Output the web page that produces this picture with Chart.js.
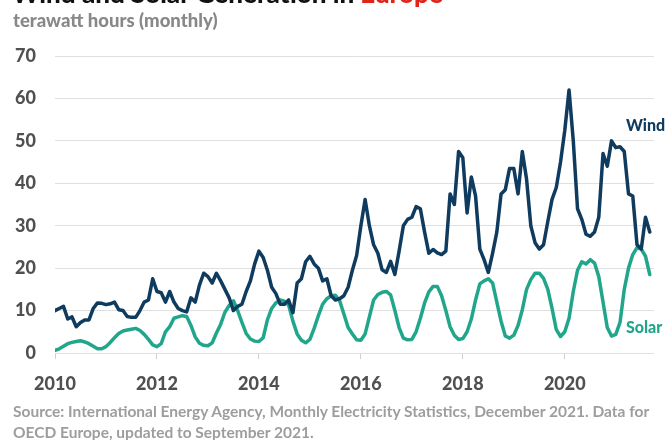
<!DOCTYPE html>
<html>
<head>
<meta charset="utf-8">
<script src="https://cdn.jsdelivr.net/npm/chart.js@4.4.1/dist/chart.umd.min.js"></script>
<style>
  body { margin: 0; background: #fff; font-family: Lato, "Noto Sans", sans-serif; }
  #wrap { position: relative; width: 670px; height: 440px; overflow: hidden; }
  #chart { position: absolute; left: 0; top: 0; }
  #title { position: absolute; left: 12px; top: -22px; font-size: 26px; line-height: 1.2; font-weight: 900; color: #111; white-space: nowrap; }
  #title span { color: #e2231a; }
  #subtitle { position: absolute; left: 13px; top: 9px; font-size: 18.5px; line-height: 1.2; font-weight: 900; color: #888; white-space: nowrap; }
  #source { position: absolute; left: 13px; top: 401px; font-size: 15.5px; line-height: 21px; font-weight: 700; color: #9d9d9d; white-space: nowrap; }
</style>
</head>
<body>
<div id="wrap">
  <canvas id="chart" width="670" height="440"></canvas>
  <div id="title">Wind and Solar Generation in <span>Europe</span></div>
  <div id="subtitle">terawatt hours (monthly)</div>
  <div id="source">Source: International Energy Agency, Monthly Electricity Statistics, December 2021. Data for<br>OECD Europe, updated to September 2021.</div>
</div>
<script>
// monthly values, Jan 2010 .. Sep 2021 (TWh)
var startYear = 2010;
var yearTicks = [2010, 2012, 2014, 2016, 2018, 2020];
var yTicks = [0, 10, 20, 30, 40, 50, 60, 70];

var wind = [
  10, 10.5, 11, 8, 8.5, 6.2, 7.2, 7.8, 7.8, 10.5, 11.8, 11.7,          // 2010
  11.4, 11.6, 12, 10.2, 10, 8.6, 8.4, 8.4, 10, 12, 12.5, 17.5,        // 2011
  14.5, 14.2, 12, 14.5, 12, 10.5, 10, 9.7, 13, 12, 16, 18.8,          // 2012
  18, 16.5, 18.8, 17, 15, 13, 10, 11, 11.5, 14.5, 17, 21,             // 2013
  24, 22.5, 19.5, 15.5, 14, 11.5, 11.5, 12.5, 9.5, 16.5, 17.5, 21.5,  // 2014
  22.8, 21, 20, 17, 17.5, 13.5, 12.5, 12.8, 13.5, 15.5, 19.5, 23,     // 2015
  30, 36.2, 30, 25.5, 23.5, 19.6, 19, 21.6, 18.5, 24, 30, 31.5,       // 2016
  32, 34.5, 34, 28.5, 23.5, 24.4, 23.6, 23.2, 24, 37.5, 35, 47.5,     // 2017
  46, 33, 41.5, 37, 24.5, 22, 19, 23.5, 28.5, 37.5, 38.5, 43.5,       // 2018
  43.5, 37.5, 47.5, 41, 30, 26, 24.5, 25.5, 31, 36.2, 39, 45,         // 2019
  52.5, 62, 50, 34, 31.5, 28, 27.5, 28.5, 32, 47, 44, 50,             // 2020
  48.4, 48.6, 47.5, 37.5, 37, 25.5, 24.5, 32, 28.5                    // 2021
];

var solar = [
  0.6, 1.0, 1.6, 2.2, 2.5, 2.7, 2.9, 2.6, 2.2, 1.6, 1.0, 1.0,         // 2010
  1.5, 2.5, 3.6, 4.6, 5.2, 5.4, 5.6, 5.8, 5.3, 4.4, 3.2, 1.9,         // 2011
  1.5, 2.2, 5, 6.2, 8.2, 8.5, 8.8, 8.6, 6.5, 3.8, 2.3, 1.8,           // 2012
  1.7, 2.4, 4.7, 6.8, 9.6, 11.2, 12.3, 10, 7.2, 4.6, 3.3, 2.8,        // 2013
  2.7, 3.6, 7.8, 10.5, 11.8, 12.5, 12.2, 11.3, 7.5, 4.5, 3, 2.4,      // 2014
  3.2, 5.8, 8.8, 11.5, 12.8, 13.5, 13.6, 12.3, 9.2, 6, 4.5, 3.1,      // 2015
  3, 4.5, 8.5, 12.5, 13.8, 14.3, 14.5, 13.7, 10, 6, 3.5, 3.1,         // 2016
  3.2, 5, 8.2, 11.8, 14.4, 15.7, 15.7, 13.5, 10, 6.2, 4.2, 3.2,       // 2017
  3.4, 5, 8, 12.5, 16.3, 17, 17.5, 16.5, 12, 7.5, 4, 3.5,             // 2018
  4.2, 6.5, 10.2, 15, 17.3, 18.8, 18.8, 17.6, 15, 10.5, 5.5, 3.9,     // 2019
  5, 8.2, 14.5, 19.5, 21.5, 21, 22, 21.2, 18, 12, 6, 4,               // 2020
  4.4, 7.2, 15, 20, 23.2, 24.8, 24.5, 22.8, 18.5                      // 2021
];

var windColor = '#0f3b5f';
var solarColor = '#22a68b';

function toPoints(arr) {
  return arr.map(function(v, i) { return { x: startYear + i / 12, y: v }; });
}

// series names written next to the line ends
var endLabels = {
  id: 'endLabels',
  afterDatasetsDraw: function(chart) {
    var ctx = chart.ctx, xs = chart.scales.x, ys = chart.scales.y;
    ctx.save();
    ctx.font = '900 16px Lato, sans-serif';
    ctx.textAlign = 'left';
    ctx.textBaseline = 'middle';
    ctx.fillStyle = windColor;
    ctx.fillText('Wind', xs.getPixelForValue(2021.2), ys.getPixelForValue(53.6));
    ctx.fillStyle = solarColor;
    ctx.fillText('Solar', xs.getPixelForValue(2021.2), ys.getPixelForValue(6));
    ctx.restore();
  }
};

var ctx = document.getElementById('chart').getContext('2d');
var chart = new Chart(ctx, {
  type: 'line',
  data: {
    datasets: [{
      label: 'Wind',
      data: toPoints(wind),
      borderColor: windColor,
      borderWidth: 3.5,
      pointRadius: 0,
      tension: 0,
      borderJoinStyle: 'round',
      borderCapStyle: 'round'
    }, {
      label: 'Solar',
      data: toPoints(solar),
      borderColor: solarColor,
      borderWidth: 3.5,
      pointRadius: 0,
      tension: 0,
      borderJoinStyle: 'round',
      borderCapStyle: 'round'
    }]
  },
  options: {
    responsive: false,
    animation: false,
    layout: { padding: { top: 56, right: 16, bottom: 0, left: 0 } },
    plugins: { legend: { display: false }, tooltip: { enabled: false } },
    scales: {
      x: {
        type: 'linear',
        min: 2010,
        max: 2021.75,
        afterBuildTicks: function(scale) {
          scale.ticks = yearTicks.map(function(v) { return { value: v }; });
        },
        afterFit: function(scale) { scale.height = 87; },
        grid: { drawOnChartArea: false, drawTicks: true, tickLength: 6, color: '#cfcfcf' },
        border: { display: false },
        ticks: {
          padding: 14,
          maxRotation: 0,
          color: '#505050',
          font: { family: 'Lato', size: 18, weight: '900' },
          callback: function(v) { return String(v); }
        }
      },
      y: {
        min: 0,
        max: 70,
        afterBuildTicks: function(scale) {
          scale.ticks = yTicks.map(function(v) { return { value: v }; });
        },
        afterFit: function(scale) { scale.width = 55; },
        grid: { color: '#e0e0e0', lineWidth: 1, drawTicks: false },
        border: { display: false },
        ticks: {
          padding: 19,
          color: '#505050',
          font: { family: 'Lato', size: 18, weight: '900' }
        }
      }
    }
  },
  plugins: [endLabels]
});
</script>
</body>
</html>
